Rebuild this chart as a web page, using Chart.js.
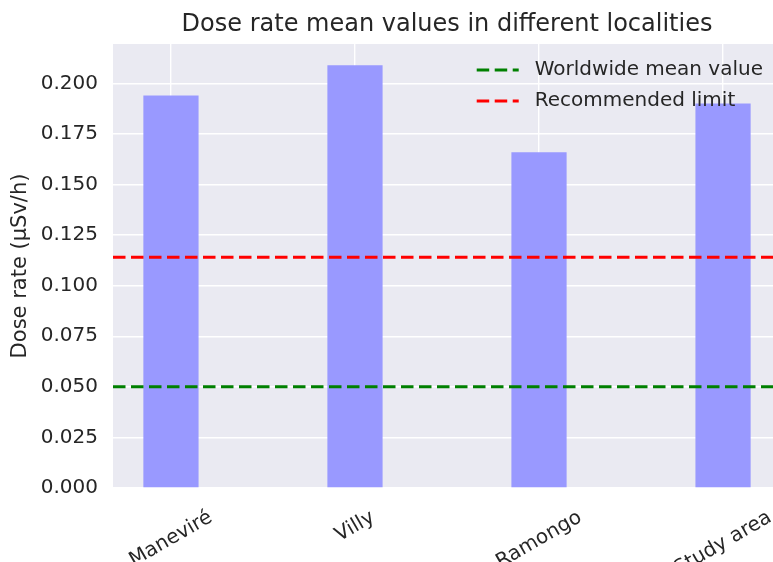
<!DOCTYPE html>
<html lang="en">
  <head>
    <meta charset="UTF-8" />
    <title>Dose rate</title>
    <script src="https://cdn.jsdelivr.net/npm/chart.js@4.4.0/dist/chart.umd.min.js"></script>
    <style>
      html, body { margin: 0; padding: 0; background: #fff; overflow: hidden; }
      #wrap { width: 773px; height: 562px; overflow: hidden; position: relative; }
      #box { position: absolute; left: 0; top: 0; width: 800px; height: 600px; }
    </style>
  </head>
  <body>
    <div id="wrap">
      <div id="box"><canvas id="chart" width="800" height="600"></canvas></div>
    </div>
    <script>
      // data
      const localities = ["Maneviré", "Villy", "Ramongo", "Study area"];
      const doseRates = [0.194, 0.209, 0.166, 0.190];
      const refLabels = ["Worldwide mean value", "Recommended limit"];
      const refValues = [0.050, 0.114];
      const refColors = ["#008000", "#ff0000"];
      const yTickStep = 0.025;

      const TXT = "#262626";
      const FONT = "'DejaVu Sans', sans-serif";
      // matplotlib style x-limits: bars of width 0.3, 5% margins
      const XMIN = -0.15 - 0.05 * (localities.length - 1 + 0.3);
      const XMAX = localities.length - 1 + 0.15 + 0.05 * (localities.length - 1 + 0.3);

      const bgPlugin = {
        id: "bg",
        beforeDraw(chart) {
          const { ctx, chartArea: a } = chart;
          ctx.save();
          ctx.fillStyle = "#eaeaf2";
          ctx.fillRect(a.left, a.top, a.right - a.left, a.bottom - a.top);
          ctx.restore();
        }
      };

      const decoPlugin = {
        id: "deco",
        afterDraw(chart) {
          const { ctx, chartArea: a } = chart;
          const xs = chart.scales.x;
          ctx.save();
          ctx.fillStyle = TXT;
          // title
          ctx.font = "24px " + FONT;
          ctx.textAlign = "center";
          ctx.textBaseline = "alphabetic";
          ctx.fillText("Dose rate mean values in different localities", (a.left + a.right) / 2, 31);

          // rotated category labels, centred under the ticks
          ctx.font = "20px " + FONT;
          const ang = Math.PI / 6;
          localities.forEach((name, i) => {
            const w = ctx.measureText(name).width;
            const h = 20 * 1.17;
            const bh = w * Math.sin(ang) + h * Math.cos(ang);
            const cx = xs.getPixelForValue(i);
            const cy = a.bottom + 18 + bh / 2;
            ctx.save();
            ctx.translate(cx, cy);
            ctx.rotate(-ang);
            ctx.textAlign = "center";
            ctx.textBaseline = "middle";
            ctx.fillText(name, 0, 0);
            ctx.restore();
          });

          // legend, upper right, no frame
          ctx.font = "20px " + FONT;
          const lines = chart.data.datasets.filter(d => d.type === "line");
          const tw = Math.max(...lines.map(d => ctx.measureText(d.label).width));
          const x0 = a.right - 18 - tw - 58;
          lines.forEach((d, i) => {
            const y = a.top + 26 + i * 31;
            ctx.strokeStyle = d.borderColor;
            ctx.lineWidth = 3;
            ctx.setLineDash(d.borderDash);
            ctx.beginPath();
            ctx.moveTo(x0, y);
            ctx.lineTo(x0 + 42, y);
            ctx.stroke();
            ctx.setLineDash([]);
            ctx.textAlign = "left";
            ctx.textBaseline = "middle";
            ctx.fillText(d.label, x0 + 58, y);
          });
          ctx.restore();
        }
      };

      const datasets = refLabels.map((lab, i) => ({
        type: "line",
        label: lab,
        data: [{ x: XMIN, y: refValues[i] }, { x: XMAX, y: refValues[i] }],
        borderColor: refColors[i],
        borderWidth: 3,
        borderDash: [12.5, 5.5],
        pointRadius: 0,
        fill: false
      }));
      datasets.push({
        type: "bar",
        label: "Dose rate",
        data: localities.map((c, i) => ({ x: i, y: doseRates[i] })),
        backgroundColor: "rgb(153,153,255)",
        borderWidth: 0,
        categoryPercentage: 1,
        barPercentage: 0.3
      });

      new Chart(document.getElementById("chart"), {
        type: "bar",
        data: { datasets: datasets },
        plugins: [bgPlugin, decoPlugin],
        options: {
          responsive: false,
          animation: false,
          layout: { padding: { left: 0, right: 19, top: 44, bottom: 0 } },
          plugins: { legend: { display: false }, tooltip: { enabled: false } },
          scales: {
            x: {
              type: "linear",
              min: XMIN,
              max: XMAX,
              offset: false,
              afterBuildTicks: s => { s.ticks = localities.map((c, i) => ({ value: i })); },
              afterFit: s => { s.height = 112; },
              grid: { color: "#ffffff", lineWidth: 1.4, drawTicks: false, offset: false },
              border: { display: false },
              ticks: { display: false }
            },
            y: {
              min: 0,
              max: Math.max(...doseRates) * 1.05,
              afterFit: s => { s.width = 113; },
              grid: { color: "#ffffff", lineWidth: 1.4, drawTicks: false },
              border: { display: false },
              ticks: {
                stepSize: yTickStep,
                includeBounds: false,
                padding: 15,
                color: TXT,
                font: { family: FONT, size: 20 },
                callback: v => v.toFixed(3)
              },
              title: {
                display: true,
                text: "Dose rate (μSv/h)",
                color: TXT,
                font: { family: FONT, size: 21 },
                padding: { top: 8, bottom: 0 }
              }
            }
          }
        }
      });
    </script>
  </body>
</html>
